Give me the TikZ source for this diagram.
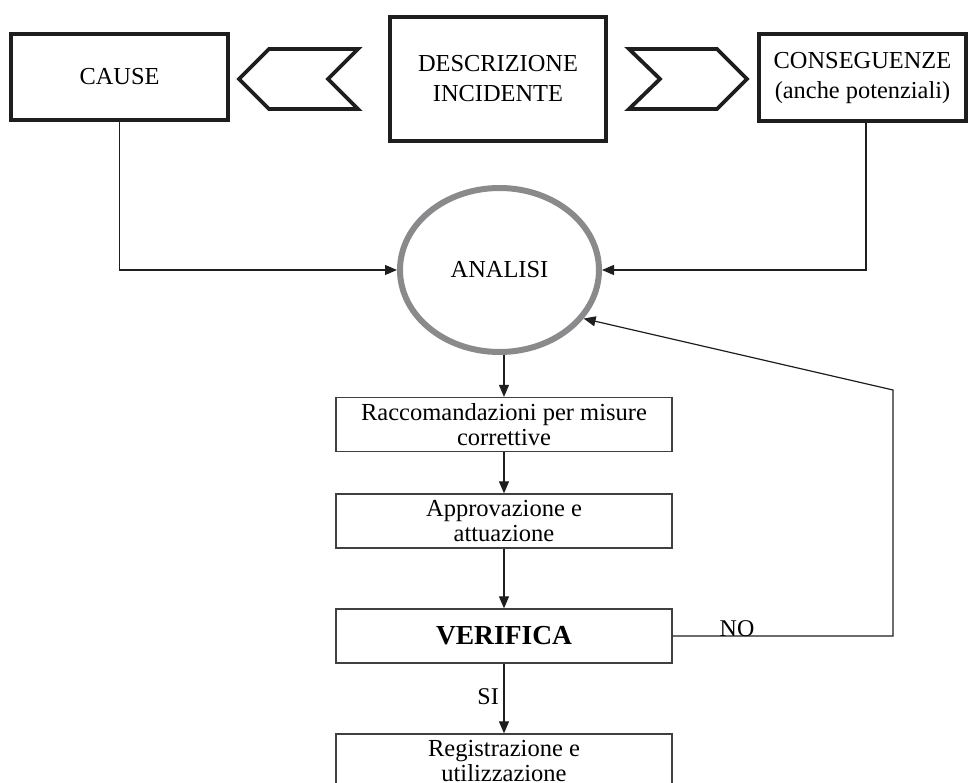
\documentclass[tikz,border=0pt]{standalone}
\usepackage{fontspec}
\setmainfont{Liberation Serif}
\usetikzlibrary{arrows.meta,shapes.geometric,calc}

\definecolor{ink}{HTML}{1E1E1E}
\definecolor{ringgray}{HTML}{8A8A8C}

\tikzset{
  x=1pt, y=-1pt,
  heavybox/.style={draw=ink, line width=4pt, rectangle, inner sep=0pt,
    align=center, font=\fontsize{24.4}{30}\selectfont},
  stagebox/.style={draw=ink!85, line width=1.3pt, rectangle, inner sep=0pt,
    minimum width=336pt, minimum height=54pt, align=center,
    font=\fontsize{24.5}{25}\selectfont},
  chevron/.style={draw=ink, line width=3.8pt, line join=miter, fill=white},
  link/.style={draw=ink, line width=1.2pt},
  arr/.style={link, -{Triangle[length=12pt,width=10pt]}},
  lbl/.style={inner sep=0pt, font=\fontsize{24}{25}\selectfont}
}

\begin{document}
\begin{tikzpicture}
\useasboundingbox (0,0) rectangle (970,783);
\begin{scope}
\clip (0,0) rectangle (970,783);

% top row: causes, incident description, consequences
\node[heavybox, minimum width=217pt, minimum height=86pt] (cause) at (119.5,77) {CAUSE};
\node[heavybox, minimum width=216pt, minimum height=124pt] (descr) at (498,79)
  {DESCRIZIONE\\INCIDENTE};
\node[heavybox, minimum width=207pt, minimum height=87pt] (conseq) at (862.5,78)
  {CONSEGUENZE\\(anche potenziali)};

% chevrons pointing away from the description
\draw[chevron] (239,79) -- (269,49) -- (358,49) -- (328,79) -- (358,109) -- (269,109) -- cycle;
\draw[chevron] (629,49) -- (717,49) -- (747,79) -- (717,109) -- (629,109) -- (660,79) -- cycle;

% analysis
\node[ellipse, draw=ringgray, line width=6pt, minimum width=199pt, minimum height=164pt,
  inner sep=0pt, font=\fontsize{24.4}{25}\selectfont] (analisi) at (499.5,270) {ANALISI};

% chain of stages
\node[stagebox] (racc)  at (504,424.5) {Raccomandazioni per misure\\correttive};
\node[stagebox] (appr)  at (504,521)   {Approvazione e\\attuazione};
\node[stagebox, font=\fontsize{27.5}{28}\selectfont\bfseries] (verif) at (504,636) {VERIFICA};
\node[stagebox] (regis) at (504,761)   {Registrazione e\\utilizzazione};

% inputs to the analysis
\draw[arr] (cause.south) |- (analisi.west);
\draw[arr] ([xshift=3.5pt]conseq.south) |- (analisi.east);

% main flow
\draw[arr] (racc.north |- analisi.south) -- (racc.north);
\draw[arr] (racc.south) -- (appr.north);
\draw[arr] (appr.south) -- (verif.north);
\draw[arr] (verif.south) -- (regis.north);
\node[lbl, anchor=east] (si) at (499,697) {SI};

% negative outcome loops back to the analysis
\coordinate (turn) at (893,390);
\draw[arr] (verif.east) -| (turn) -- (analisi.-30);
\node[lbl, anchor=base] (no) at (737,636) {NO};
\end{scope}
\end{tikzpicture}
\end{document}
